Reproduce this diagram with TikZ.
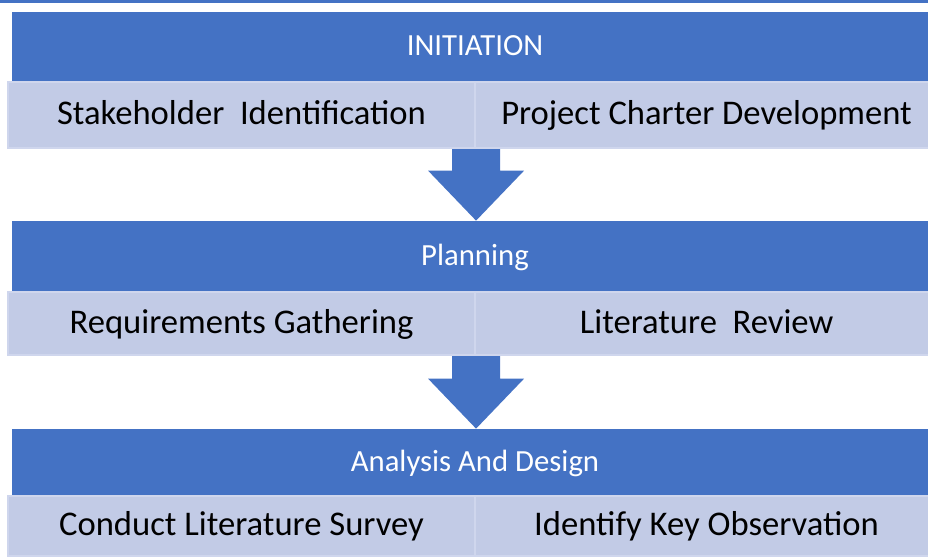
\documentclass[tikz,border=0pt]{standalone}
\usepackage{fontspec}
\setmainfont{Carlito}
\usepackage{tikz}
\usetikzlibrary{positioning,calc}
\definecolor{phaseblue}{RGB}{68,114,196}
\definecolor{taskfill}{RGB}{194,203,230}
\definecolor{taskline}{RGB}{207,214,237}
\newcommand{\px}{0.02cm}
\tikzset{
  phase/.style={rectangle,fill=phaseblue,text=white,inner sep=0pt,
    text height=2.1ex,text depth=0ex,font=\fontsize{17.5}{21}\selectfont},
  task/.style={rectangle,fill=taskfill,draw=taskline,line width=1.2pt,
    inner sep=0pt,text=black,text height=2.35ex,text depth=0ex,
    font=\fontsize{19.7}{24}\selectfont},
  flow/.style={fill=phaseblue},
}
\begin{document}
\begin{tikzpicture}[x=0.02cm,y=0.02cm]
  \useasboundingbox (0,0) rectangle (928,556);
  % thin band along the top edge
  \fill[phaseblue] (0,552.7) rectangle (928,556);
  % phase 1
  \node[phase,minimum width=926*\px,minimum height=70*\px] (h1) at (475,509) {INITIATION};
  \node[task,minimum width=467*\px,minimum height=66*\px] (r1l) at (241.5,441) {Stakeholder\ \ Identification};
  \node[task,minimum width=463*\px,minimum height=66*\px] (r1r) at (706.5,441) {Project Charter Development};
  % phase 2
  \node[phase,minimum width=926*\px,minimum height=71*\px] (h2) at (475,299.5) {Planning};
  \node[task,minimum width=467*\px,minimum height=63*\px] (r2l) at (241.5,232.5) {Requirements Gathering};
  \node[task,minimum width=463*\px,minimum height=63*\px] (r2r) at (706.5,232.5) {Literature\ \ Review};
  % phase 3
  \node[phase,minimum width=926*\px,minimum height=67*\px] (h3) at (475,93.5) {Analysis And Design};
  \node[task,minimum width=467*\px,minimum height=60*\px] (r3l) at (241.5,30) {Conduct Literature Survey};
  \node[task,minimum width=463*\px,minimum height=60*\px] (r3r) at (706.5,30) {Identify Key Observation};
  % block arrows between phases
  \foreach \top/\bot in {r1l/h2, r2l/h3}{
    \coordinate (tip) at (\bot.north -| \top.south east);
    \fill[flow] ($(\top.south east)+(-24,0)$) -- ($(\top.south east)+(24,0)$)
      -- ($(tip)+(24,50)$) -- ($(tip)+(48,50)$) -- (tip)
      -- ($(tip)+(-48,50)$) -- ($(tip)+(-24,50)$) -- cycle;
  }
\end{tikzpicture}
\end{document}
